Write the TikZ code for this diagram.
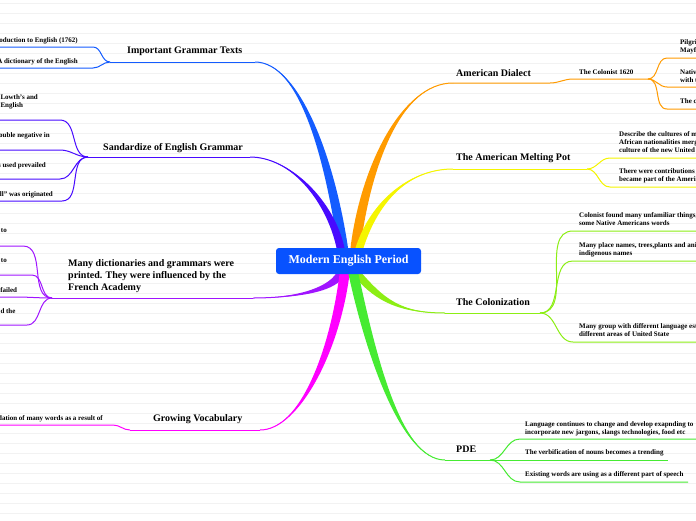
\documentclass[tikz,border=0pt]{standalone}
\usepackage{fontspec}
\setmainfont{Liberation Serif}
\usetikzlibrary{calc}
\pgfdeclarelayer{background}
\pgfsetlayers{background,main}
\definecolor{rootblue}{RGB}{8,82,255}
\definecolor{textsblue}{RGB}{20,92,255}
\definecolor{stdindigo}{RGB}{72,10,255}
\definecolor{dictpurple}{RGB}{160,20,255}
\definecolor{vocmagenta}{RGB}{255,0,255}
\definecolor{dialorange}{RGB}{255,155,0}
\definecolor{meltyellow}{RGB}{245,245,0}
\definecolor{colgreen}{RGB}{140,238,20}
\definecolor{pdegreen}{RGB}{70,235,50}
\tikzstyle{rootnode} = [fill=rootblue, rounded corners=3pt, text=white, minimum width=145pt, minimum height=26pt, inner sep=0pt, font=\fontsize{12}{14}\selectfont\bfseries]
\tikzstyle{topicnode} = [anchor=base west, inner sep=0pt, align=left, font=\fontsize{10}{11.7}\selectfont\bfseries]
\tikzstyle{leafnode} = [anchor=base west, inner sep=0pt, align=left, font=\fontsize{7}{8}\selectfont\bfseries]
\tikzstyle{leftleafnode} = [leafnode, anchor=base east]
\tikzstyle{twig} = [draw, line width=1pt]
\tikzstyle{ruling} = [draw, color=black!5, line width=0.8pt]
\newcommand{\topic}[2]{node (t#1) [topicnode] {#2}}
\newcommand{\leaf}[2]{node (l#1) [leafnode] {#2}}
\newcommand{\leftleaf}[2]{node (l#1) [leftleafnode] {#2}}
\newcommand{\branch}[6]{%
  \fill[#1] ($(#2)+(#6)$) .. controls ($(#3)+(#6)$) and (#4) .. (#5)
    .. controls (#4) and ($(#3)-(#6)$) .. ($(#2)-(#6)$) -- cycle;
  \path[draw=#1, line width=1pt] (#2) .. controls (#3) and (#4) .. (#5);}

\begin{document}
\begin{tikzpicture}[x=1pt,y=-1pt]
\useasboundingbox (0,0) rectangle (696,520);
\begin{pgfonlayer}{background}
\fill[white] (0,0) rectangle (696,520);
\foreach \k in {0,...,51}
  \path [ruling] (0,{3.3+10*\k}) -- (696,{3.3+10*\k});
\end{pgfonlayer}

\path (348.5,261) node (root) [rootnode] {Modern English Period};
\coordinate (west) at (-2,0);
\coordinate (east) at (698,0);
\coordinate (b1) at ($(root.north)+(-5.5,0)$);
\coordinate (b2) at ($(root.north)+(-8,0)$);
\coordinate (b5) at ($(root.north)+(7,0)$);
\coordinate (b6) at ($(root.north)+(11,0)$);
\coordinate (b3) at ($(root.south)+(-8,0)$);
\coordinate (b4) at ($(root.south)+(-4,0)$);
\coordinate (b7) at ($(root.south)+(9,0)$);
\coordinate (b8) at ($(root.south)+(5,0)$);

% left side (base = last line)
\coordinate (e1) at (255,62);
\coordinate (j1) at (110,62);
\coordinate (k11) at (93,47);
\coordinate (k12) at (93,68);
\path (127,53.5) \topic{1}{Important Grammar Texts};
\path (78,42) \leftleaf{11}{oduction to English (1762)};
\path (78,63) \leftleaf{12}{A dictionary of the English};
\path [twig, textsblue] (e1) -- (j1);
\path [twig, textsblue] (j1) to[out=180,in=0] (k11) -- (k11 -| west);
\path [twig, textsblue] (j1) to[out=180,in=0] (k12) -- (k12 -| west);

\coordinate (e2) at (250,157);
\coordinate (j2) at (88,157);
\coordinate (k21) at (60,120);
\coordinate (k22) at (60,150);
\coordinate (k23) at (60,179);
\coordinate (k24) at (62,201);
\path (103,150) \topic{2}{Sandardize of English Grammar};
\path (38,107.5) \leftleaf{21}{Lowth's and\\English};
\path (50,137) \leftleaf{22}{ouble negative in};
\path (46,167) \leftleaf{23}{s used prevailed};
\path (53,196) \leftleaf{24}{ll” was originated};
\path [twig, stdindigo] (e2) -- (j2);
\path [twig, stdindigo] (j2) to[out=180,in=0] (k21) -- (k21 -| west);
\path [twig, stdindigo] (j2) to[out=180,in=0] (k22) -- (k22 -| west);
\path [twig, stdindigo] (j2) to[out=180,in=0] (k23) -- (k23 -| west);
\path [twig, stdindigo] (j2) to[out=180,in=0] (k24) -- (k24 -| west);

\coordinate (e3) at (253,298);
\coordinate (j3) at (52,298);
\coordinate (k31) at (23,246);
\coordinate (k32) at (32,275);
\coordinate (k33) at (15,297);
\coordinate (k34) at (27,325);
\path (68,290.2) \topic{3}{Many dictionaries and grammars were\\printed. They were influenced by the\\French Academy};
\path (7,232) \leftleaf{31}{to};
\path (7,262) \leftleaf{32}{to};
\path (17.3,292) \leftleaf{33}{failed};
\path (15.7,313.5) \leftleaf{34}{d the};
\path [twig, dictpurple] (e3) -- (j3);
\path [twig, dictpurple] (j3) to[out=180,in=0] (k31) -- (k31 -| west);
\path [twig, dictpurple] (j3) to[out=180,in=0] (k32) -- (k32 -| west);
\path [twig, dictpurple] (j3) to[out=180,in=0] (k33) -- (k33 -| west);
\path [twig, dictpurple] (j3) to[out=180,in=0] (k34) -- (k34 -| west);

\coordinate (e4) at (260,430);
\coordinate (j4) at (130,430);
\coordinate (k41) at (113,425);
\path (153,421.8) \topic{4}{Growing Vocabulary};
\path (103,420.5) \leftleaf{41}{dation of many words as a result of};
\path [twig, vocmagenta] (e4) -- (j4);
\path [twig, vocmagenta] (j4) to[out=180,in=0] (k41) -- (k41 -| west);

% right side
\coordinate (e5) at (453,83);
\coordinate (j5) at (550,83);
\coordinate (k51) at (573,79);
\coordinate (j51) at (648,79);
\coordinate (k52) at (667,58);
\coordinate (k53) at (667,87);
\coordinate (k54) at (667,109);
\path (456,76.2) \topic{5}{American Dialect};
\path (579,74.3) \leaf{51}{The Colonist 1620};
\path (680,52.5) \leaf{52}{Pilgri\\Mayf};
\path (680,82.3) \leaf{53}{Nativ\\with t};
\path (680,103) \leaf{54}{The c};
\path [twig, dialorange] (e5) -- (j5) to[out=0,in=180] (k51) -- (j51);
\path [twig, dialorange] (j51) to[out=0,in=180] (k52) -- (k52 -| east);
\path [twig, dialorange] (j51) to[out=0,in=180] (k53) -- (k53 -| east);
\path [twig, dialorange] (j51) to[out=0,in=180] (k54) -- (k54 -| east);

\coordinate (e6) at (453,169);
\coordinate (j6) at (587,169);
\coordinate (k61) at (610,158);
\coordinate (k62) at (610,187);
\path (456,160.8) \topic{6}{The American Melting Pot};
\path (619,152.3) \leaf{61}{Describe the cultures of m\\African nationalities merg\\culture of the new United};
\path (619,181.7) \leaf{62}{There were contributions\\became part of the Ameri};
\path [twig, meltyellow] (e6) -- (j6);
\path [twig, meltyellow] (j6) to[out=0,in=180] (k61) -- (k61 -| east);
\path [twig, meltyellow] (j6) to[out=0,in=180] (k62) -- (k62 -| east);

\coordinate (e7) at (445,313);
\coordinate (j7) at (540,313);
\coordinate (k71) at (573,231);
\coordinate (k72) at (573,261);
\coordinate (k73) at (573,342);
\path (456,305.2) \topic{7}{The Colonization};
\path (579,225) \leaf{71}{Colonist found many unfamiliar things,\\some Native Americans words};
\path (579,255.7) \leaf{72}{Many place names, trees,plants and ani\\indigenous names};
\path (579,336.7) \leaf{73}{Many group with different language est\\different areas of United State};
\path [twig, colgreen] (e7) -- (j7);
\path [twig, colgreen] (j7) to[out=0,in=180] (k71) -- (k71 -| east);
\path [twig, colgreen] (j7) to[out=0,in=180] (k72) -- (k72 -| east);
\path [twig, colgreen] (j7) to[out=0,in=180] (k73) -- (k73 -| east);

\coordinate (e8) at (445,460);
\coordinate (j8) at (490,460);
\coordinate (k81) at (520,439);
\coordinate (k82) at (667.7,460);
\coordinate (k83) at (520,482);
\coordinate (f83) at (688,482);
\path (456,452.8) \topic{8}{PDE};
\path (525,434.3) \leaf{81}{Language continues to change and develop exapnding to\\incorporate new jargons, slangs technologies, food etc};
\path (525,454.7) \leaf{82}{The verbification of nouns becomes a trending};
\path (525,476.3) \leaf{83}{Existing words are using as a different part of speech};
\path [twig, pdegreen] (e8) -- (j8);
\path [twig, pdegreen] (j8) to[out=0,in=180] (k81) -- (k81 -| east);
\path [twig, pdegreen] (j8) -- (k82);
\path [twig, pdegreen] (j8) to[out=0,in=180] (k83) -- (f83);

\begin{pgfonlayer}{background}
\branch{textsblue}{b1}{330,160}{300,62}{e1}{5,0}
\branch{stdindigo}{b2}{330,200}{290,157}{e2}{4,0}
\branch{dictpurple}{b3}{330,292}{290,298}{e3}{3.5,2}
\branch{vocmagenta}{b4}{335,350}{300,430}{e4}{5,0}
\branch{dialorange}{b5}{365,170}{400,83}{e5}{5,0}
\branch{meltyellow}{b6}{375,200}{410,169}{e6}{4,0}
\branch{colgreen}{b7}{380,300}{400,313}{e7}{3,-2.5}
\branch{pdegreen}{b8}{370,350}{400,460}{e8}{5,0}
\end{pgfonlayer}
\end{tikzpicture}
\end{document}
